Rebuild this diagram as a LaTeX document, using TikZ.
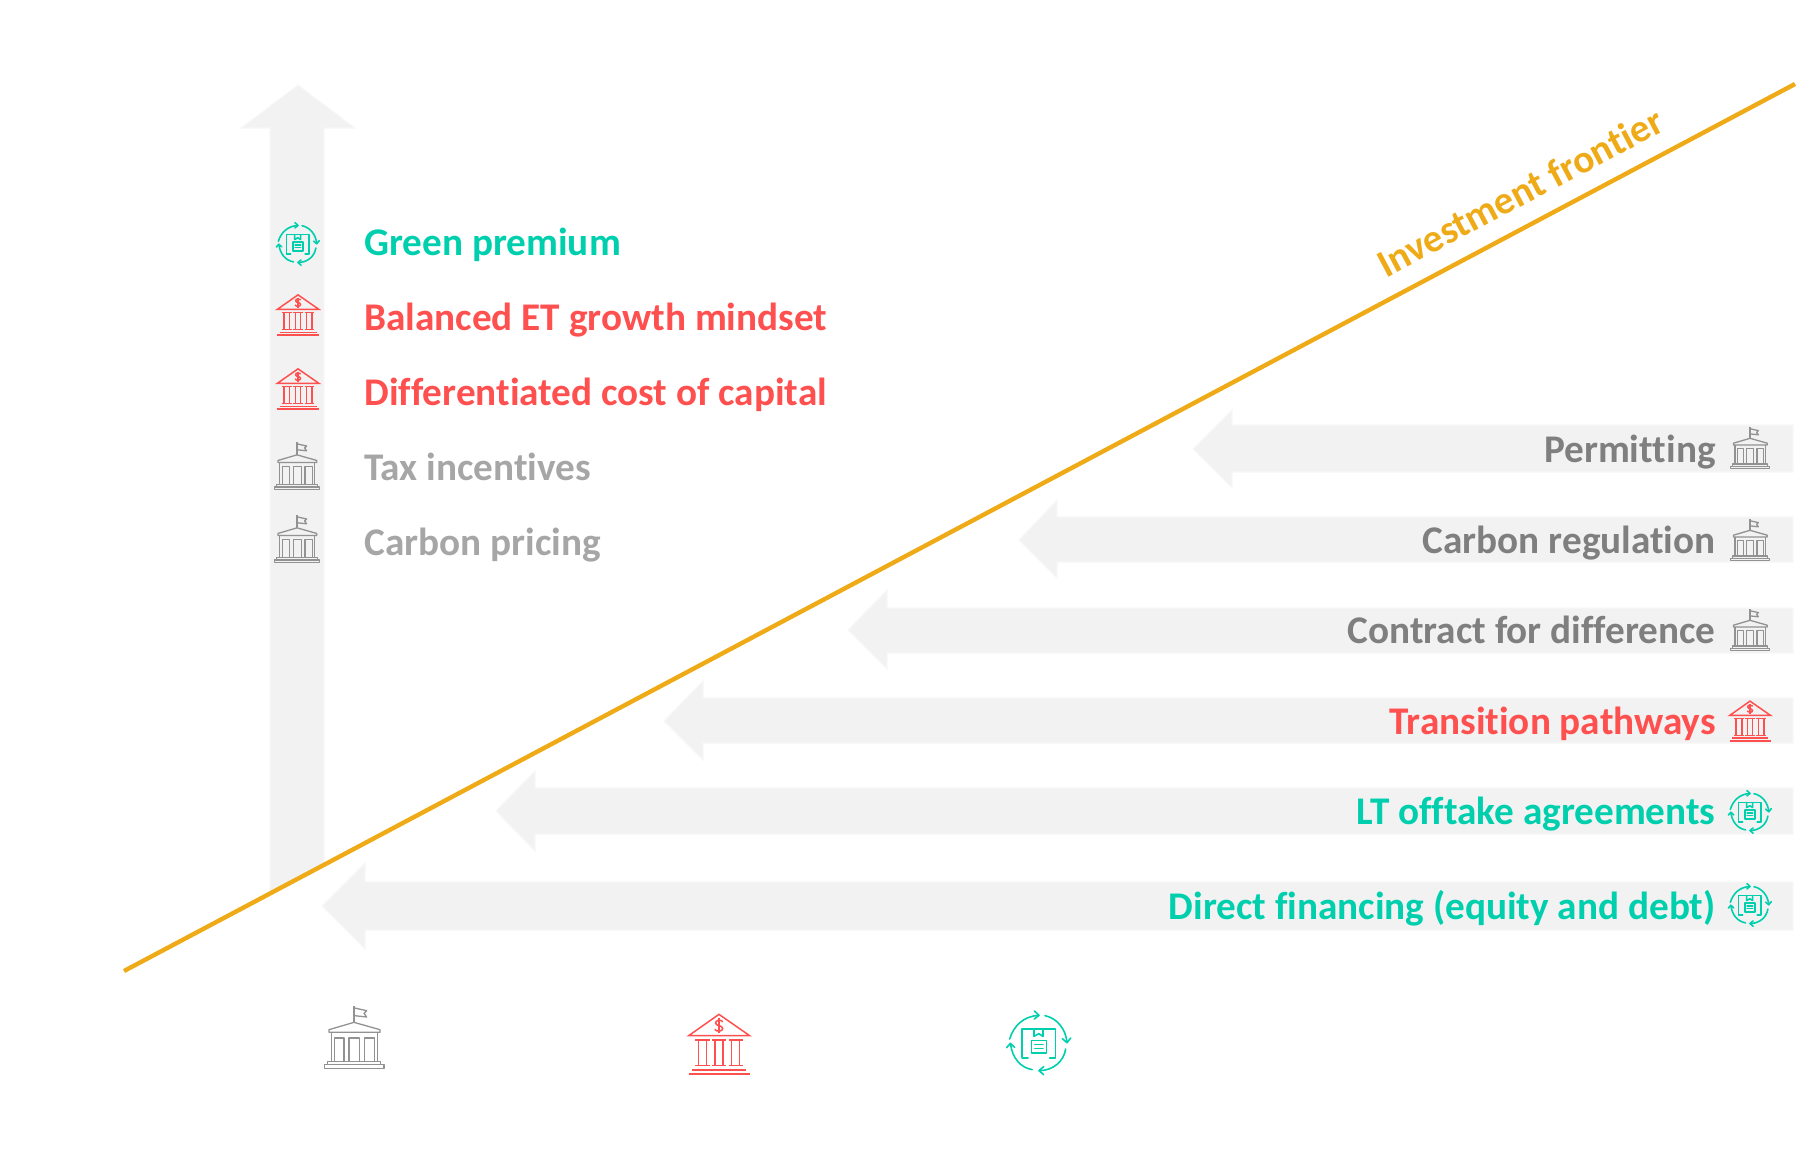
\documentclass[tikz,border=0pt]{standalone}
\usepackage{fontspec}
\setmainfont[Ligatures=NoCommon]{Carlito}
\definecolor{teal1}{HTML}{00CFAE}
\definecolor{red1}{HTML}{FF5050}
\definecolor{gray1}{HTML}{A6A6A6}
\definecolor{gray2}{HTML}{7F7F7F}
\definecolor{gold1}{HTML}{EFAB17}
\definecolor{band}{HTML}{F2F2F2}
\definecolor{bandedge}{HTML}{F8F8F8}
\tikzset{
  bandarrow/.style={fill=band,draw=bandedge,line width=.6pt},
  frontier/.style={draw=gold1,line width=2.2pt},
  lefttext/.style={font=\fontsize{19.6}{22}\selectfont\bfseries,anchor=mid west,inner sep=0pt,yshift=-4.5pt},
  righttext/.style={font=\fontsize{19.6}{22}\selectfont\bfseries,anchor=mid east,inner sep=0pt,yshift=-4.3pt},
  govicon/.pic={
    \begin{scope}[scale=1/3,shift={(-130,-112)},line width=.65pt,draw=gray2!85!white,line join=round]
      \draw (130,68) -- (130,18);
      \draw (132,25) -- (168,33) -- (160,41) -- (168,52) -- (132,48);
      \draw (55,90) -- (130,68) -- (208,90) -- (208,98) -- (55,98) -- cycle;
      \draw (62,98) -- (62,185) (200,98) -- (200,185);
      \draw (72,185) -- (72,115) -- (100,115) -- (100,185);
      \draw (115,185) -- (115,115) -- (147,115) -- (147,185);
      \draw (162,185) -- (162,115) -- (192,115) -- (192,185);
      \draw (50,195) -- (50,185) -- (210,185) -- (210,195);
      \draw (42,195) rectangle (220,206);
    \end{scope}
  },
  bankicon/.pic={
    \begin{scope}[scale=1/3,shift={(-176,-133)},line width=.75pt,draw=red1,line join=miter]
      \draw (85,108) -- (176,44) -- (268,108) -- cycle;
      \draw (188,66) .. controls (180,58) and (164,62) .. (166,71) .. controls (168,80) and (186,76) .. (187,86) .. controls (188,95) and (170,98) .. (163,89);
      \draw (176,56) -- (176,101);
      \foreach \xa/\xb in {105/148,155/197,205/247}{
        \draw (\xa,121) -- (\xb,121);
        \draw (\xa,197) -- (\xb,197);
        \draw ({\xa+9},121) -- ({\xa+9},197);
        \draw ({\xb-9},121) -- ({\xb-9},197);
      }
      \draw[line width=.9pt] (95,210) -- (258,210);
      \draw[line width=1.1pt] (85,222) -- (268,222);
    \end{scope}
  },
  cycleicon/.pic={
    \begin{scope}[scale=1/3,shift={(-148,-130)},line width=.8pt,draw=teal1,line cap=round,line join=round]
      \draw (97,172) -- (97,88) -- (197,88) -- (197,175) -- (180,175);
      \draw (97,175) -- (115,175);
      \draw (133,88) -- (133,110) -- (147,102) -- (160,110) -- (160,88);
      \draw (125,122) rectangle (170,160);
      \draw (135,134) -- (160,134) (135,146) -- (160,146);
      \draw (60,118) .. controls (72,78) and (102,50) .. (146,47);
      \draw (134,34) -- (148,47) -- (134,58);
      \draw (166,48) .. controls (204,56) and (228,90) .. (232,127);
      \draw (218,117) -- (232,129) -- (243,115);
      \draw (228,148) .. controls (222,186) and (190,212) .. (150,213);
      \draw (162,201) -- (148,213) -- (162,225);
      \draw (128,210) .. controls (92,204) and (68,174) .. (63,135);
      \draw (51,144) -- (62,131) -- (75,143);
    \end{scope}
  }
}
\begin{document}
\begin{tikzpicture}[x=.5pt,y=-.5pt]
\useasboundingbox (0,0) rectangle (1800,1163);
\path[bandarrow] (298,85) -- (355,128) -- (324,128) -- (324,864) -- (270,893) -- (270,128) -- (241,128) -- cycle;
\foreach \tip/\bas/\ym/\sa/\sb/\ha/\hb in {
  1193/1232/449/425/472/410/488,
  1019/1057/540/517/562/500/578,
  848/887/630/608/653/590/669,
  664/703/721/698/743/681/760,
  496/535/811/788/834/771/851,
  322/365/906/882/930/863/949}{
  \path[bandarrow] (\tip,\ym) -- (\bas,\ha) -- (\bas,\sa) -- (1793,\sa) -- (1793,\sb) -- (\bas,\sb) -- (\bas,\hb) -- cycle;
}
\coordinate (fa) at (124,971);
\coordinate (fb) at (1795,84);
\draw[frontier] (fa) -- (fb);
\node[font=\fontsize{19.6}{22}\selectfont\bfseries,text=gold1,rotate=27.9,inner sep=0pt] (frontierlabel) at (1520,192) {Investment frontier};
\node[lefttext,text=teal1] (t1) at (364,242) {Green premium};
\node[lefttext,text=red1] (t2) at (364,317) {Balanced ET growth mindset};
\node[lefttext,text=red1] (t3) at (364,392) {Differentiated cost of capital};
\node[lefttext,text=gray1] (t4) at (364,467) {Tax incentives};
\node[lefttext,text=gray1] (t5) at (364,542) {Carbon pricing};
\pic[scale=.67] at (298,244) {cycleicon};
\pic[scale=.68] at (298,315) {bankicon};
\pic[scale=.68] at (298,389) {bankicon};
\pic[scale=.76] at (297,466) {govicon};
\pic[scale=.76] at (297,539) {govicon};
\node[righttext,text=gray2] (r1) at (1716,449) {Permitting};
\node[righttext,text=gray2] (r2) at (1716,540) {Carbon regulation};
\node[righttext,text=gray2] (r3) at (1716,630) {Contract for difference};
\node[righttext,text=red1] (r4) at (1716,721) {Transition pathways};
\node[righttext,text=teal1] (r5) at (1716,811) {LT offtake agreements};
\node[righttext,text=teal1] (r6) at (1716,906) {Direct financing (equity and debt)};
\pic[scale=.66] at (1750,448) {govicon};
\pic[scale=.66] at (1750,540) {govicon};
\pic[scale=.66] at (1750,630) {govicon};
\pic[scale=.67] at (1750,721) {bankicon};
\pic[scale=.67] at (1750,812) {cycleicon};
\pic[scale=.67] at (1750,905) {cycleicon};
\pic at (354,1037) {govicon};
\pic at (719,1044) {bankicon};
\pic at (1039,1043) {cycleicon};
\end{tikzpicture}
\end{document}
